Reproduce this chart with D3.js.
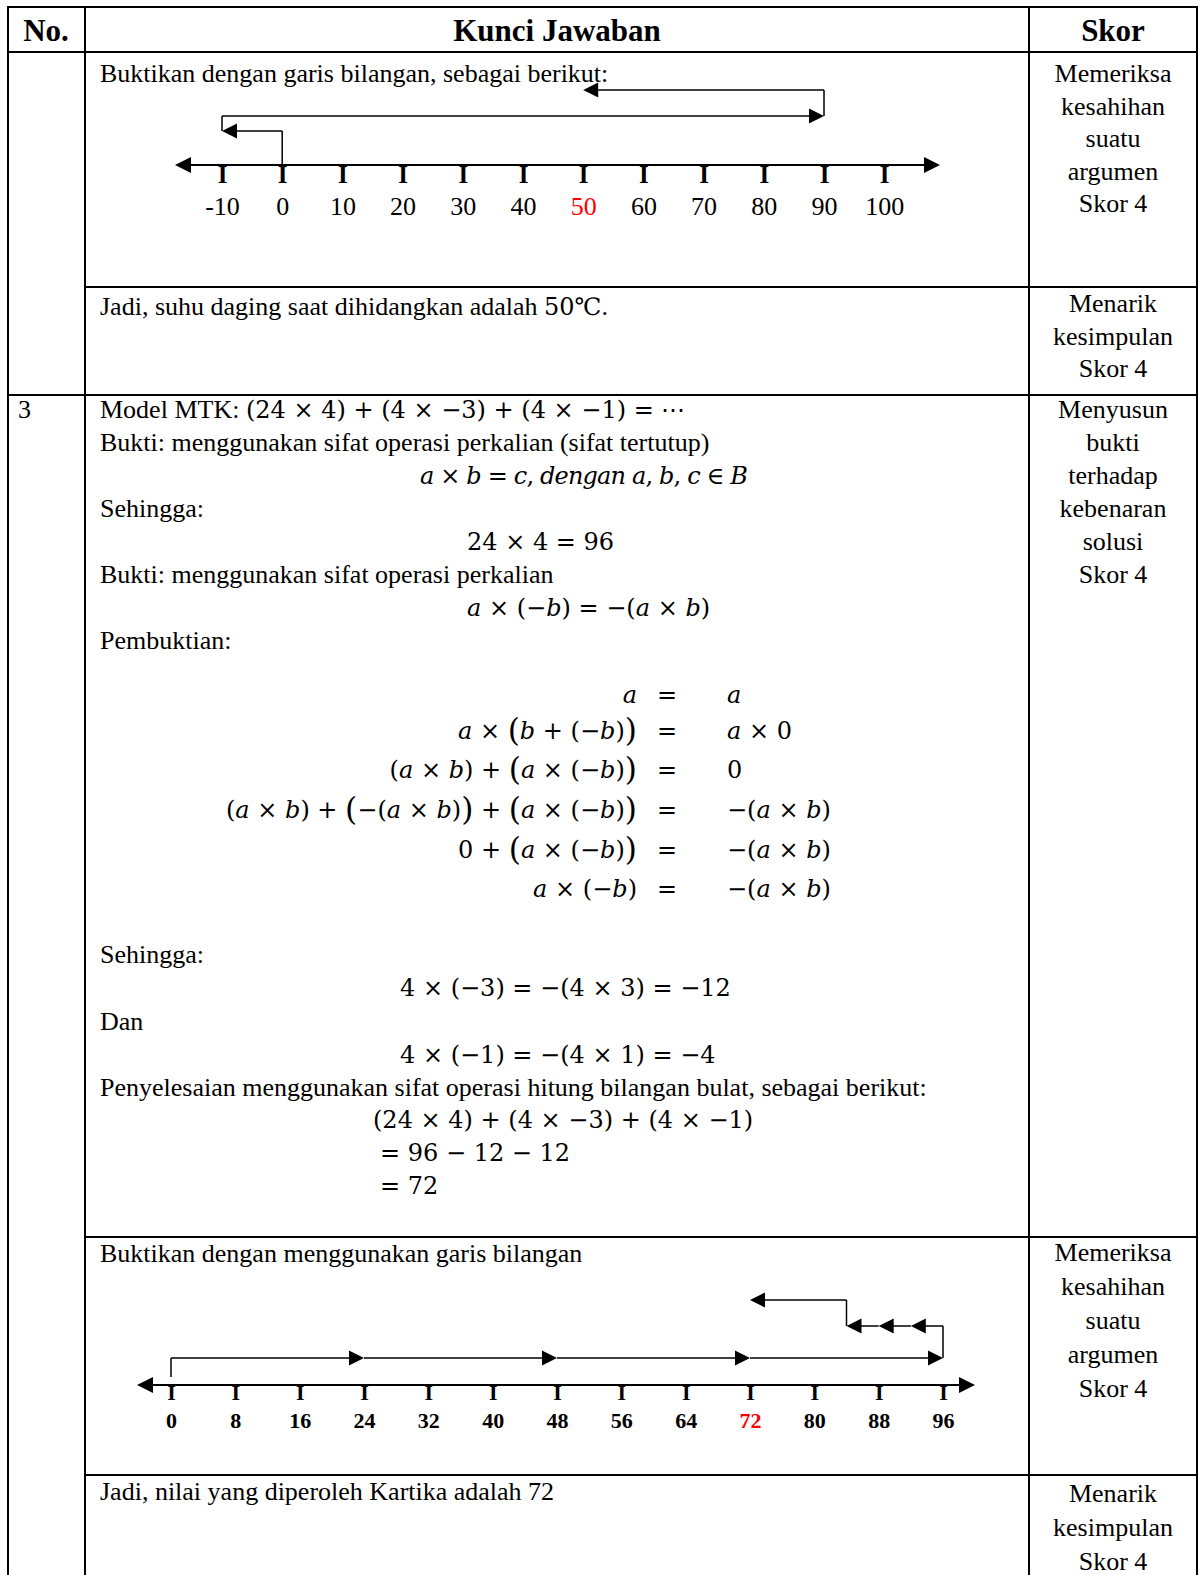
<!DOCTYPE html>
<html>
<head>
<meta charset="utf-8">
<script src="https://cdn.jsdelivr.net/npm/d3@7"></script>
<style>
  body { margin: 0; background: #fff; }
  svg text { white-space: pre; }
</style>
</head>
<body>
<svg id="page"></svg>
<script>
// header + skor column
var headers = ["No.", "Kunci Jawaban", "Skor"];
var skorA = ["Memeriksa", "kesahihan", "suatu", "argumen", "Skor 4"];
var skorB = ["Menarik", "kesimpulan", "Skor 4"];
var skorC = ["Menyusun", "bukti", "terhadap", "kebenaran", "solusi", "Skor 4"];

// number line 1 (suhu daging)
var ticks1 = [-10, 0, 10, 20, 30, 40, 50, 60, 70, 80, 90, 100];
var answer1 = 50;
var jumps1 = [[0, -10], [-10, 90], [90, 50]];
var levels1 = [0, 1, 2];

// number line 2 (nilai Kartika)
var ticks2 = [0, 8, 16, 24, 32, 40, 48, 56, 64, 72, 80, 88, 96];
var answer2 = 72;
var jumps2 = [[0, 24], [24, 48], [48, 72], [72, 96], [96, 92], [92, 88], [88, 84], [84, 72]];
var levels2 = [0, 0, 0, 0, 1, 1, 1, 2];

// pembuktian (left side = right side)
var eqLeft = ["a", "a × {b + (−b)}", "(a × b) + {a × (−b)}", "(a × b) + {−(a × b)} + {a × (−b)}", "0 + {a × (−b)}", "a × (−b)"];
var eqRight = ["a", "a × 0", "0", "−(a × b)", "−(a × b)", "−(a × b)"];

var BODY = '"Liberation Serif","Times New Roman",serif';
var MATH = '"DejaVu Serif",serif';
var MFS = 24;

var svg = d3.select("#page").attr("width", 1202).attr("height", 1575);

// ---- table grid ----
var grid = svg.append("g").attr("stroke", "#000").attr("stroke-width", 2);
[8, 85, 1029, 1197].forEach(function(x) {
  grid.append("line").attr("x1", x).attr("x2", x).attr("y1", 6).attr("y2", 1575);
});
[[7, 7], [52, 7], [287, 85], [395, 7], [1237, 85], [1475, 85]].forEach(function(h) {
  grid.append("line").attr("x1", h[1]).attr("x2", 1198).attr("y1", h[0]).attr("y2", h[0]);
});

function text(x, y, str, anchor) {
  return svg.append("text").attr("x", x).attr("y", y)
    .attr("font-family", BODY).attr("font-size", 26)
    .attr("text-anchor", anchor || "start").text(str);
}

// math: letters italic, { } are tall parentheses
function addMath(t, str) {
  var parts = str.match(/[A-Za-z]+|[{}]|[^A-Za-z{}]+/g);
  var shift = 0;
  parts.forEach(function(p) {
    var s = t.append("tspan").attr("font-family", MATH).attr("font-size", MFS);
    if (p == "{" || p == "}") {
      s.text(p == "{" ? "(" : ")").attr("font-size", MFS * 1.3).attr("dy", 0.1 * MFS - shift);
      shift = 0.1 * MFS;
    } else {
      if (shift) { s.attr("dy", -shift); shift = 0; }
      s.text(p);
      if (/^[A-Za-z]+$/.test(p)) s.attr("font-style", "italic");
    }
  });
  return t;
}
function math(x, y, str, anchor) {
  var t = svg.append("text").attr("x", x).attr("y", y).attr("text-anchor", anchor || "start");
  return addMath(t, str);
}

// header
svg.selectAll(".hdr").data(headers).enter().append("text")
  .attr("x", function(d, i) { return [46, 557, 1113][i]; })
  .attr("y", 41)
  .attr("text-anchor", "middle")
  .attr("font-family", BODY).attr("font-size", 31).attr("font-weight", "bold")
  .text(function(d) { return d; });

// skor column
function skor(lines, y0, step) {
  lines.forEach(function(s, i) { text(1113, y0 + i * step, s, "middle"); });
}
skor(skorA, 82, 32.5);
skor(skorB, 312, 32.5);
skor(skorC, 418, 33);
skor(skorA, 1261, 34);
skor(skorB, 1502, 34);

text(18, 418, "3");

// ---- row 1 ----
text(100, 82, "Buktikan dengan garis bilangan, sebagai berikut:");

function arrowHead(g, x, y, dir, len, half) {
  g.append("path")
    .attr("d", "M" + x + "," + y + "L" + (x - dir * len) + "," + (y - half) + "L" + (x - dir * len) + "," + (y + half) + "Z")
    .attr("fill", "#000");
}

function numberLine(opt) {
  var g = svg.append("g");
  var x = d3.scaleLinear().domain(opt.domain).range(opt.range);
  // main line with arrows both ends
  g.append("line").attr("x1", opt.ends[0] + 10).attr("x2", opt.ends[1] - 10)
    .attr("y1", opt.axisY).attr("y2", opt.axisY).attr("stroke", "#000").attr("stroke-width", 2);
  arrowHead(g, opt.ends[0], opt.axisY, -1, 16, 8);
  arrowHead(g, opt.ends[1], opt.axisY, 1, 16, 8);

  var ax = g.append("g").attr("transform", "translate(0," + opt.axisY + ")")
    .call(d3.axisBottom(x).tickValues(opt.ticks).tickSize(0).tickPadding(opt.pad)
      .tickFormat(function(d) { return String(d); }));
  ax.select(".domain").remove();
  ax.attr("font-family", BODY).attr("font-size", opt.fs).attr("font-weight", opt.weight);
  ax.selectAll(".tick text").attr("fill", function(d) { return d === opt.answer ? "#ff0000" : "#000"; });
  // serif "I" tick marks
  ax.selectAll(".tick").append("text")
    .attr("y", opt.tickY).attr("text-anchor", "middle").attr("fill", "#000")
    .attr("font-size", opt.tickFs).attr("font-weight", "bold")
    .text("I");

  // jumps
  var prevY = opt.axisY - opt.startGap;
  opt.jumps.forEach(function(j, i) {
    var y = opt.levelY[opt.levels[i]];
    var x0 = x(j[0]), x1 = x(j[1]);
    var dir = x1 > x0 ? 1 : -1;
    if (i == 0 || opt.levels[i] != opt.levels[i - 1]) {
      g.append("line").attr("x1", x0).attr("x2", x0).attr("y1", prevY).attr("y2", y)
        .attr("stroke", "#000").attr("stroke-width", 1.5);
    }
    g.append("line").attr("x1", x0).attr("x2", x1 - dir * 8).attr("y1", y).attr("y2", y)
      .attr("stroke", "#000").attr("stroke-width", 1.5);
    arrowHead(g, x1, y, dir, 15, 7.5);
    prevY = y;
  });
}

numberLine({
  domain: [-10, 90], range: [222, 824], ends: [175, 940], axisY: 165,
  ticks: ticks1, answer: answer1, pad: 32, fs: 26, weight: "normal",
  tickY: 18, tickFs: 25,
  jumps: jumps1, levels: levels1, levelY: [131, 116, 90], startGap: 0
});

// ---- row 2 ----
var t2 = text(100, 315, "Jadi, suhu daging saat dihidangkan adalah ");
addMath(t2, "50℃");
t2.append("tspan").text(".");

// ---- row 3 ----
var t3 = text(100, 418, "Model MTK: ");
addMath(t3, "(24 × 4) + (4 × −3) + (4 × −1) = ⋯");
text(100, 451, "Bukti: menggunakan sifat operasi perkalian (sifat tertutup)");
math(420, 484, "a × b = c, dengan a, b, c ∈ B").attr("textLength", 328);
text(100, 517, "Sehingga:");
math(467, 550, "24 × 4 = 96");
text(100, 583, "Bukti: menggunakan sifat operasi perkalian");
math(467, 616, "a × (−b) = −(a × b)");
text(100, 649, "Pembuktian:");

var eqY = [703, 739, 778, 818, 858, 897];
eqLeft.forEach(function(s, i) {
  math(637, eqY[i], s, "end");
  math(667, eqY[i], "=", "middle");
  math(727, eqY[i], eqRight[i]);
});

text(100, 963, "Sehingga:");
math(400, 996, "4 × (−3) = −(4 × 3) = −12");
text(100, 1030, "Dan");
math(400, 1063, "4 × (−1) = −(4 × 1) = −4");
text(100, 1096, "Penyelesaian menggunakan sifat operasi hitung bilangan bulat, sebagai berikut:");
math(373, 1128, "(24 × 4) + (4 × −3) + (4 × −1)");
math(380, 1161, "= 96 − 12 − 12");
math(380, 1194, "= 72");

// ---- row 4 ----
text(100, 1262, "Buktikan dengan menggunakan garis bilangan");
numberLine({
  domain: [0, 96], range: [171, 943], ends: [137, 975], axisY: 1385,
  ticks: ticks2, answer: answer2, pad: 27, fs: 22, weight: "bold",
  tickY: 15, tickFs: 22,
  jumps: jumps2, levels: levels2, levelY: [1358, 1326, 1300], startGap: 8
});

// ---- row 5 ----
text(100, 1500, "Jadi, nilai yang diperoleh Kartika adalah 72");
</script>
</body>
</html>
